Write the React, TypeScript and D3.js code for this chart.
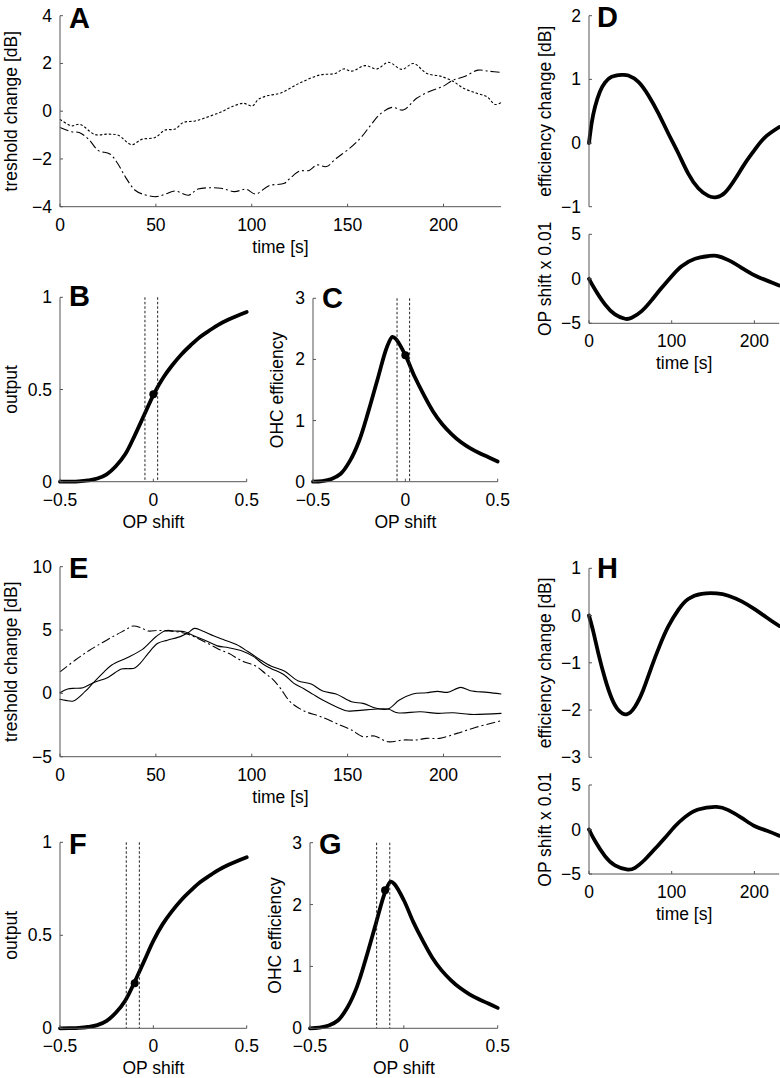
import React from "react";
import * as d3 from "d3";

const FONT = "'Liberation Sans', Arial, Helvetica, sans-serif";
const AX = "#555";

// ---------- Panel A data ----------
const aDotT = [0, 6, 10.4, 18.3, 25, 30.4, 37.4, 42.6, 49.6, 54.8, 60, 64.3, 70.4, 77.4, 84.3, 89.6, 95.7, 100.3, 103.5, 108.7, 114.8, 125.3, 135.7, 143.5, 147.9, 152.2, 159.2, 165.3, 171.3, 178.3, 184.4, 191.3, 198.3, 204.4, 210.5, 217.4, 222.6, 227, 230];
const aDotV = [-0.34, -0.61, -0.55, -0.98, -0.96, -1.01, -1.4, -1.18, -1.1, -0.79, -0.75, -0.47, -0.41, -0.23, -0.02, 0.19, 0.33, 0.22, 0.5, 0.66, 0.75, 1.19, 1.52, 1.58, 1.77, 1.68, 1.91, 1.77, 2.05, 1.75, 2.0, 1.58, 1.47, 1.28, 0.96, 0.75, 0.61, 0.28, 0.36];
const aDashT = [0, 6, 10, 15, 20, 26, 30, 34, 39, 43, 50, 55, 60, 67, 72, 84, 91, 97, 102, 109, 117, 120, 125, 130, 134, 139, 144, 151, 157, 162, 167, 173, 179, 186, 193, 200, 205, 211, 218, 224, 230];
const aDashV = [-0.68, -0.86, -0.89, -1.18, -1.65, -1.79, -2.18, -2.74, -3.3, -3.47, -3.58, -3.47, -3.34, -3.52, -3.26, -3.23, -3.37, -3.27, -3.47, -3.12, -3.02, -2.81, -2.51, -2.48, -2.25, -2.32, -1.98, -1.56, -1.1, -0.59, -0.12, 0.16, 0.05, 0.54, 0.84, 1.05, 1.3, 1.45, 1.72, 1.67, 1.63];

// ---------- Panel E data ----------
const eDashT = [0, 8, 15, 22, 29, 34, 38, 42, 46, 51, 57, 64, 70, 77, 83, 88, 95, 102, 107, 111, 115, 120, 127, 136, 146, 152, 158, 164, 171, 179, 186, 191, 198, 207, 217, 230];
const eDashV = [1.7, 2.63, 3.37, 4.0, 4.6, 5.0, 5.32, 5.2, 4.92, 4.97, 4.92, 4.79, 4.47, 3.95, 3.47, 3.16, 2.55, 2.16, 1.58, 1.1, 0.39, -0.66, -1.37, -1.84, -2.5, -2.89, -3.42, -3.37, -3.82, -3.68, -3.68, -3.55, -3.55, -3.16, -2.68, -2.16];
const eSolid1T = [0, 4, 8, 12, 17.4, 25, 32, 36, 39, 42, 46, 51, 56, 63, 67, 70, 74, 80, 86, 92, 98, 104, 110, 117, 124, 131, 137, 144, 152, 158, 165, 171, 177, 184, 191, 197, 202, 209, 214, 223, 230];
const eSolid1V = [0.05, 0.35, 0.4, 0.45, 0.84, 1.26, 1.92, 1.95, 2.0, 2.4, 3.16, 3.95, 4.2, 4.5, 4.8, 5.13, 4.95, 4.55, 4.2, 3.85, 3.3, 2.7, 2.16, 1.76, 1.0, 0.74, 0.18, -0.05, -0.66, -0.79, -1.18, -1.24, -0.53, -0.05, 0.05, 0.16, 0.08, 0.47, 0.21, 0.08, -0.05];
const eSolid2T = [0, 3, 7, 13, 17.4, 23, 27, 35, 43, 50, 55, 60, 65, 70, 77, 82, 88, 95, 101, 106, 110, 117, 122, 127, 132, 137, 144, 150, 158, 171, 176, 188, 197, 205, 214, 230];
const eSolid2V = [-0.47, -0.55, -0.6, 0.13, 0.84, 1.7, 2.24, 2.82, 3.47, 4.47, 4.95, 4.92, 4.87, 4.53, 4.1, 3.75, 3.6, 3.35, 2.9, 2.3, 1.97, 1.45, 0.79, 0.39, -0.08, -0.53, -1.05, -1.39, -1.32, -1.24, -1.53, -1.45, -1.58, -1.53, -1.66, -1.58];

// ---------- OP shift curves (B, C, F, G) ----------
const opShift = [-0.5, -0.45, -0.4, -0.35, -0.3, -0.25, -0.2, -0.15, -0.1, -0.05, 0, 0.05, 0.1, 0.15, 0.2, 0.25, 0.3, 0.35, 0.4, 0.45, 0.5];
const outputVals = [0, 0.0005, 0.002, 0.007, 0.017, 0.04, 0.085, 0.15, 0.25, 0.36, 0.47, 0.56, 0.63, 0.69, 0.74, 0.785, 0.82, 0.852, 0.878, 0.9, 0.92];
const effShift = [-0.5, -0.45, -0.4, -0.35, -0.3, -0.25, -0.2, -0.15, -0.1, -0.07, -0.05, 0, 0.05, 0.1, 0.15, 0.2, 0.25, 0.3, 0.35, 0.4, 0.45, 0.5];
const effVals = [0, 0.01, 0.045, 0.13, 0.34, 0.67, 1.15, 1.68, 2.2, 2.37, 2.33, 2.07, 1.72, 1.42, 1.15, 0.94, 0.78, 0.65, 0.55, 0.47, 0.4, 0.33];
const opBounds1 = [-0.045, 0.023];
const opBounds2 = [-0.145, -0.075];
const opPoint1 = { x: 0, out: 0.474, eff: 2.07 };
const opPoint2 = { x: -0.1, out: 0.242, eff: 2.23 };

// ---------- D / H ----------
const dTopT = [0, 3.2, 7.3, 13.3, 19.3, 27.4, 39.5, 47.6, 59.7, 71.7, 83.8, 95.9, 108, 120, 132.2, 144.3, 154.4, 164.4, 176.5, 188.6, 200.7, 212.8, 230];
const dTopV = [0, 0.31, 0.57, 0.81, 0.95, 1.04, 1.07, 1.06, 0.96, 0.75, 0.47, 0.15, -0.16, -0.48, -0.71, -0.83, -0.85, -0.78, -0.57, -0.32, -0.1, 0.09, 0.25];
const dBotT = [0, 7.3, 19.3, 31.4, 43.5, 51.6, 63.7, 75.8, 87.9, 100, 112, 128.2, 144.3, 154.4, 168.5, 184.6, 200.7, 216.8, 230];
const dBotV = [0, -1.2, -2.88, -4.0, -4.49, -4.38, -3.63, -2.4, -1.01, 0.3, 1.42, 2.25, 2.55, 2.58, 2.1, 1.24, 0.37, -0.26, -0.75];
const hTopT = [0, 5.2, 11.3, 19.3, 27.4, 35.5, 45.5, 55.6, 65.7, 75.8, 85.9, 95.9, 108, 120, 136.2, 154.4, 168.5, 184.6, 200.7, 214.8, 230];
const hTopV = [0, -0.34, -0.8, -1.33, -1.75, -2.0, -2.09, -1.93, -1.57, -1.08, -0.62, -0.23, 0.12, 0.35, 0.46, 0.47, 0.42, 0.3, 0.13, -0.04, -0.22];
const hBotT = [0, 7.3, 19.3, 31.4, 45.5, 55.6, 67.7, 79.8, 91.9, 104, 116, 132, 154.4, 168.5, 184.6, 200.7, 216.8, 230];
const hBotV = [0, -1.3, -3.0, -4.04, -4.49, -4.3, -3.37, -2.17, -0.94, 0.37, 1.39, 2.25, 2.55, 2.17, 1.31, 0.37, -0.19, -0.7];

// ---------- ticks ----------
const timeTicks = [0, 50, 100, 150, 200];
const timeTicksShort = [0, 100, 200];
const opTicks = [-0.5, 0, 0.5];

const fmt = (v: number) => (v < 0 ? "\u2212" : "") + String(Math.abs(v));

type Series = { x: number[]; y: number[]; w: number; dash?: string; curve?: any };

type PanelProps = {
  x0: number; x1: number; yTop: number; yBot: number;
  xDomain: [number, number]; yDomain: [number, number];
  xTicks?: number[]; yTicks: number[];
  showXAxis?: boolean;
  xLabel?: string; yLabel?: string; yLabelX?: number;
  letter?: string; letterX?: number; letterY?: number;
  series: Series[];
  vlines?: number[];
  dots?: { x: number; y: number }[];
};

function Panel(p: PanelProps) {
  const xs = d3.scaleLinear().domain(p.xDomain).range([p.x0, p.x1]);
  const ys = d3.scaleLinear().domain(p.yDomain).range([p.yBot, p.yTop]);
  const cy = (p.yTop + p.yBot) / 2;
  const cx = (p.x0 + p.x1) / 2;
  return (
    <g>
      {p.series.map((s, i) => {
        const line = d3
          .line<number>()
          .x((_, j) => xs(s.x[j]))
          .y((v) => ys(v))
          .curve(s.curve || d3.curveCatmullRom);
        return (
          <path key={i} d={line(s.y) || ""} fill="none" stroke="#000" strokeWidth={s.w}
            strokeDasharray={s.dash} strokeLinejoin="round" strokeLinecap={s.dash ? "butt" : "round"} />
        );
      })}
      {(p.vlines || []).map((v, i) => (
        <line key={"v" + i} x1={xs(v)} x2={xs(v)} y1={p.yTop} y2={p.yBot} stroke="#222" strokeWidth={1} strokeDasharray="2.5,2" />
      ))}
      {(p.dots || []).map((d, i) => (
        <circle key={"d" + i} cx={xs(d.x)} cy={ys(d.y)} r={4} fill="#000" />
      ))}
      <line x1={p.x0} x2={p.x0} y1={p.yTop} y2={p.yBot} stroke={AX} strokeWidth={1} />
      {p.yTicks.map((t) => (
        <g key={"yt" + t}>
          <line x1={p.x0} x2={p.x0 + 3} y1={ys(t)} y2={ys(t)} stroke={AX} strokeWidth={1} />
          <text x={p.x0 - 8} y={ys(t) + 6} textAnchor="end" fontSize={17.5} fontFamily={FONT} fill="#000">{fmt(t)}</text>
        </g>
      ))}
      {p.showXAxis !== false && (
        <g>
          <line x1={p.x0} x2={p.x1} y1={p.yBot} y2={p.yBot} stroke={AX} strokeWidth={1} />
          {(p.xTicks || []).map((t) => (
            <g key={"xt" + t}>
              <line x1={xs(t)} x2={xs(t)} y1={p.yBot} y2={p.yBot - 3} stroke={AX} strokeWidth={1} />
              <text x={xs(t)} y={p.yBot + 24} textAnchor="middle" fontSize={17.5} fontFamily={FONT} fill="#000">{fmt(t)}</text>
            </g>
          ))}
        </g>
      )}
      {p.xLabel && (
        <text x={cx} y={p.yBot + 46} textAnchor="middle" fontSize={17.5} fontFamily={FONT} fill="#000">{p.xLabel}</text>
      )}
      {p.yLabel && (
        <text transform={`translate(${p.yLabelX},${cy}) rotate(-90)`} textAnchor="middle" fontSize={17.5} fontFamily={FONT} fill="#000">{p.yLabel}</text>
      )}
      {p.letter && (
        <text x={p.letterX} y={p.letterY} fontSize={29} fontWeight="bold" fontFamily={FONT} fill="#000">{p.letter}</text>
      )}
    </g>
  );
}

const DOT = "2.5,2";
const DASHDOT = "9,3,2,3";
const smooth = d3.curveCatmullRom.alpha(0.5);
const nat = d3.curveNatural;

export default function App() {
  return (
    <svg width={780} height={1078} style={{ position: "absolute", left: 0, top: 0, background: "#fff" }}>
      <rect x={0} y={0} width={780} height={1078} fill="#fff" />
      {/* A */}
      <Panel x0={60} x1={501} yTop={15.7} yBot={206.7} xDomain={[0, 230]} yDomain={[-4, 4]}
        xTicks={timeTicks} yTicks={[-4, -2, 0, 2, 4]} xLabel="time [s]" yLabel="treshold change [dB]" yLabelX={17}
        letter="A" letterX={69} letterY={28}
        series={[
          { x: aDotT, y: aDotV, w: 1.1, dash: DOT },
          { x: aDashT, y: aDashV, w: 1.1, dash: DASHDOT },
        ]} />
      {/* B */}
      <Panel x0={60} x1={246.7} yTop={297.3} yBot={481.7} xDomain={[-0.5, 0.5]} yDomain={[0, 1]}
        xTicks={opTicks} yTicks={[0, 0.5, 1]} xLabel="OP shift" yLabel="output" yLabelX={17}
        letter="B" letterX={69} letterY={306}
        vlines={opBounds1} dots={[{ x: opPoint1.x, y: opPoint1.out }]}
        series={[{ x: opShift, y: outputVals, w: 3.8, curve: smooth }]} />
      {/* C */}
      <Panel x0={313} x1={497.7} yTop={298.3} yBot={481.7} xDomain={[-0.5, 0.5]} yDomain={[0, 3]}
        xTicks={opTicks} yTicks={[0, 1, 2, 3]} xLabel="OP shift" yLabel="OHC efficiency" yLabelX={283}
        letter="C" letterX={322} letterY={308}
        vlines={opBounds1} dots={[{ x: opPoint1.x, y: opPoint1.eff }]}
        series={[{ x: effShift, y: effVals, w: 3.8, curve: smooth }]} />
      {/* D top */}
      <Panel x0={589} x1={779.2} yTop={15.7} yBot={206.7} xDomain={[0, 230]} yDomain={[-1, 2]}
        yTicks={[-1, 0, 1, 2]} showXAxis={false} yLabel="efficiency change [dB]" yLabelX={551}
        letter="D" letterX={597} letterY={27}
        series={[{ x: dTopT, y: dTopV, w: 3.8, curve: nat }]} />
      {/* D bottom */}
      <Panel x0={589} x1={779.2} yTop={234.3} yBot={323.3} xDomain={[0, 230]} yDomain={[-5, 5]}
        xTicks={timeTicksShort} yTicks={[-5, 0, 5]} xLabel="time [s]" yLabel="OP shift x 0.01" yLabelX={551}
        series={[{ x: dBotT, y: dBotV, w: 3.8, curve: nat }]} />
      {/* E */}
      <Panel x0={60} x1={501} yTop={566.7} yBot={756.7} xDomain={[0, 230]} yDomain={[-5, 10]}
        xTicks={timeTicks} yTicks={[-5, 0, 5, 10]} xLabel="time [s]" yLabel="treshold change [dB]" yLabelX={17}
        letter="E" letterX={69} letterY={578}
        series={[
          { x: eSolid1T, y: eSolid1V, w: 1.1 },
          { x: eSolid2T, y: eSolid2V, w: 1.1 },
          { x: eDashT, y: eDashV, w: 1.1, dash: DASHDOT },
        ]} />
      {/* F */}
      <Panel x0={60} x1={246.7} yTop={842.3} yBot={1028.3} xDomain={[-0.5, 0.5]} yDomain={[0, 1]}
        xTicks={opTicks} yTicks={[0, 0.5, 1]} xLabel="OP shift" yLabel="output" yLabelX={17}
        letter="F" letterX={69} letterY={854}
        vlines={opBounds2} dots={[{ x: opPoint2.x, y: opPoint2.out }]}
        series={[{ x: opShift, y: outputVals, w: 3.8, curve: smooth }]} />
      {/* G */}
      <Panel x0={310} x1={497.7} yTop={842.7} yBot={1028.3} xDomain={[-0.5, 0.5]} yDomain={[0, 3]}
        xTicks={opTicks} yTicks={[0, 1, 2, 3]} xLabel="OP shift" yLabel="OHC efficiency" yLabelX={281}
        letter="G" letterX={319} letterY={854}
        vlines={opBounds2} dots={[{ x: opPoint2.x, y: opPoint2.eff }]}
        series={[{ x: effShift, y: effVals, w: 3.8, curve: smooth }]} />
      {/* H top */}
      <Panel x0={589} x1={779.2} yTop={568.3} yBot={757.3} xDomain={[0, 230]} yDomain={[-3, 1]}
        yTicks={[-3, -2, -1, 0, 1]} showXAxis={false} yLabel="efficiency change [dB]" yLabelX={551}
        letter="H" letterX={597} letterY={578}
        series={[{ x: hTopT, y: hTopV, w: 3.8, curve: nat }]} />
      {/* H bottom */}
      <Panel x0={589} x1={779.2} yTop={785} yBot={874} xDomain={[0, 230]} yDomain={[-5, 5]}
        xTicks={timeTicksShort} yTicks={[-5, 0, 5]} xLabel="time [s]" yLabel="OP shift x 0.01" yLabelX={551}
        series={[{ x: hBotT, y: hBotV, w: 3.8, curve: nat }]} />
    </svg>
  );
}
